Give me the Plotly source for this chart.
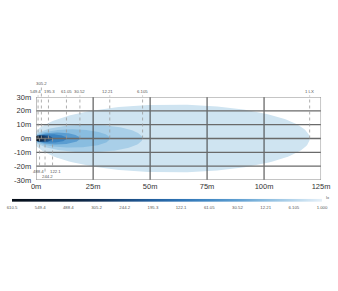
import numpy as np
import plotly.graph_objects as go

# ---------------- data ----------------
levels = ["549.4", "488.4", "305.2", "244.2", "195.3", "122.1", "61.05", "30.52", "12.21", "6.105", "1 LX"]
reach_m = [0.85, 1.5, 2.3, 3.9, 5.4, 7.2, 13.3, 19.2, 32.3, 46.7, 120.0]     # beam length (m)
start_m = [-0.8, -0.9, -1.0, -1.0, -1.0, -1.0, -0.8, -0.8, -1.0, -1.2, -1.5]  # rear end (m)
halfwidth_m = [1.5, 1.7, 1.9, 2.1, 2.3, 2.6, 3.1, 4.3, 6.6, 10.0, 24.5]    # half width (m)
level_colors = ["#040b15", "#061324", "#0a1f38", "#0f2d50", "#16406f", "#1f5891",
                "#3a83c1", "#5a9dd1", "#89bde0", "#a9cfe8", "#cfe4f1"]
label_side = ["top", "bottom", "top2", "bottom2", "top", "bottom", "top", "top", "top", "top", "top"]

x_ticks = [0, 25, 50, 75, 100, 125]
x_ticktext = ["0m", "25m", "50m", "75m", "100m", "125m"]
y_ticks = [-30, -20, -10, 0, 10, 20, 30]
y_ticktext = ["-30m", "-20m", "-10m", "0m", "10m", "20m", "30m"]

scale_labels = ["610.5", "549.4", "488.4", "305.2", "244.2", "195.3", "122.1", "61.05", "30.52", "12.21", "6.105", "1.000"]
scale_colors = ["#050d17", "#08172a", "#0c2139", "#123158", "#1a4a7f", "#22609f",
                "#2f74b5", "#4389c4", "#5f9fd1", "#8cbde0", "#b7d6ec", "#e6f1f9"]

# ---------------- style ----------------
label_dx = {"549.4": -3, "488.4": -1, "195.3": 1, "122.1": 3, "244.2": 2, "12.21": -2}
small_font = dict(size=4.3, color="#555555", family="Liberation Sans Narrow, Liberation Sans")

# ---------------- figure ----------------
fig = go.Figure()

t = np.linspace(0, 2 * np.pi, 200)
for i in reversed(range(len(levels))):
    cx = (reach_m[i] + start_m[i]) / 2
    a = (reach_m[i] - start_m[i]) / 2
    b = halfwidth_m[i]
    fig.add_trace(go.Scatter(x=cx + a * np.cos(t), y=b * np.sin(t), mode="lines",
                             fill="toself", fillcolor=level_colors[i],
                             line=dict(width=0), hoverinfo="skip", showlegend=False,
                             xaxis="x", yaxis="y"))

n = len(scale_labels)
cs = [[k / (n - 1), c] for k, c in enumerate(scale_colors)]
fig.add_trace(go.Heatmap(z=[list(range(n))], x=list(range(n)), y=[0], colorscale=cs,
                         zsmooth="best", showscale=False, hoverinfo="skip",
                         xaxis="x2", yaxis="y2"))

shapes = []
for v in x_ticks[1:-1]:
    shapes.append(dict(type="line", xref="x", yref="y", x0=v, x1=v, y0=-30, y1=30,
                       line=dict(color="#3c3c3c", width=1), layer="above"))
for v in y_ticks[1:-1]:
    shapes.append(dict(type="line", xref="x", yref="y", x0=0, x1=125, y0=v, y1=v,
                       line=dict(color="#6a6a6a", width=1.3), layer="above"))
shapes.append(dict(type="rect", xref="x", yref="y", x0=0, x1=125, y0=-30, y1=30,
                   line=dict(color="#8c8c8c", width=1), layer="above"))

annotations = []
for i, lab in enumerate(levels):
    side = label_side[i]
    x = reach_m[i]
    dx = label_dx.get(lab, 0)
    if side.startswith("top"):
        ytop = 0.918 if side == "top" else 0.975
        shapes.append(dict(type="line", xref="x", yref="paper", x0=x, x1=x,
                           y0=0.585, y1=ytop - 0.028,
                           line=dict(color="#9a9a9a", width=0.8, dash="dot"), layer="above"))
        annotations.append(dict(x=x, y=ytop, xref="x", yref="paper", text=lab, showarrow=False,
                                font=small_font, xanchor="center", yanchor="middle", xshift=dx))
    else:
        ylab = -23.6 if side == "bottom" else -27.8
        shapes.append(dict(type="line", xref="x", yref="y", x0=x, x1=x, y0=0, y1=ylab + 2,
                           line=dict(color="#9a9a9a", width=0.8, dash="dot"), layer="above"))
        annotations.append(dict(x=x, y=ylab, xref="x", yref="y", text=lab, showarrow=False,
                                font=small_font, xanchor="center", yanchor="middle", xshift=dx))

annotations.append(dict(x=1.0, y=0.168, xref="paper", yref="paper", text="lx", showarrow=False,
                        font=small_font, xanchor="left", yanchor="middle", xshift=2))

tickfont = dict(size=7.5, color="#333333", family="Liberation Sans")
fig.update_layout(
    width=338, height=291,
    margin=dict(l=7, r=10, t=80, b=70),
    paper_bgcolor="white", plot_bgcolor="white",
    xaxis=dict(domain=[25 / 321, 320 / 321], range=[0, 125], tickvals=x_ticks, ticktext=x_ticktext,
               showgrid=False, zeroline=False, showline=False, ticks="", tickfont=tickfont,
               ticklabelstandoff=1, anchor="y"),
    yaxis=dict(domain=[0.2908, 0.8794], range=[-30, 30], tickvals=y_ticks, ticktext=y_ticktext,
               showgrid=False, zeroline=False, showline=False, ticks="", tickfont=tickfont,
               ticklabelstandoff=4, anchor="x"),
    xaxis2=dict(domain=[0, 1], range=[0, n - 1], tickvals=list(range(n)), ticktext=scale_labels,
                showgrid=False, zeroline=False, showline=False, ticks="",
                tickfont=small_font, ticklabelstandoff=2, anchor="y2"),
    yaxis2=dict(domain=[0.136, 0.157], range=[-0.5, 0.5], visible=False, anchor="x2"),
    shapes=shapes, annotations=annotations, showlegend=False,
)

fig.write_html("out.html")
